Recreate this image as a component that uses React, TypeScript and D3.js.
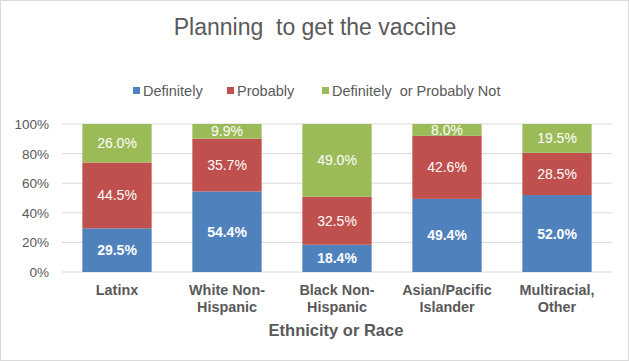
import { useEffect, useRef } from "react";
import * as d3 from "d3";

const categories = [
  ["Latinx"],
  ["White Non-", "Hispanic"],
  ["Black Non-", "Hispanic"],
  ["Asian/Pacific", "Islander"],
  ["Multiracial,", "Other"],
];
const seriesNames = ["Definitely", "Probably", "Definitely  or Probably Not"];
const definitely = [29.5, 54.4, 18.4, 49.4, 52.0];
const probably = [44.5, 35.7, 32.5, 42.6, 28.5];
const probablyNot = [26.0, 9.9, 49.0, 8.0, 19.5];
const yTicks = [0, 20, 40, 60, 80, 100];
const colors = ["#4f81bd", "#c0504d", "#9bbb59"];

const width = 629;
const height = 361;
const font = "'Liberation Sans', Arial, sans-serif";
const grey = "#595959";

export default function App() {
  const svgRef = useRef<SVGSVGElement>(null);

  useEffect(() => {
    if (!svgRef.current) return;
    const svg = d3.select(svgRef.current);
    svg.selectAll("*").remove();

    const margin = { top: 124, right: 17, bottom: 89, left: 62 };
    const innerWidth = width - margin.left - margin.right;
    const innerHeight = height - margin.top - margin.bottom;

    // border
    svg
      .append("rect")
      .attr("x", 0.5)
      .attr("y", 0.5)
      .attr("width", width - 1)
      .attr("height", height - 1)
      .attr("fill", "#fff")
      .attr("stroke", "#d9d9d9");

    // title
    svg
      .append("text")
      .attr("x", 315)
      .attr("y", 35)
      .attr("text-anchor", "middle")
      .style("font-family", font)
      .style("font-size", "23px")
      .style("fill", grey)
      .style("white-space", "pre")
      .text("Planning  to get the vaccine");

    // legend
    const legendX = [133, 227, 322];
    seriesNames.forEach((name, i) => {
      const lg = svg.append("g").attr("transform", `translate(${legendX[i]},91)`);
      lg.append("rect")
        .attr("x", 0)
        .attr("y", -4)
        .attr("width", 7)
        .attr("height", 7)
        .attr("fill", colors[i]);
      lg.append("text")
        .attr("x", 10)
        .attr("y", 5)
        .style("font-family", font)
        .style("font-size", "14.5px")
        .style("fill", grey)
        .style("white-space", "pre")
        .text(name);
    });

    const g = svg
      .append("g")
      .attr("transform", `translate(${margin.left},${margin.top})`);

    const x = d3
      .scaleBand()
      .domain(categories.map((c) => c.join(" ")))
      .range([0, innerWidth])
      .paddingInner(0.37)
      .paddingOuter(0.185);

    const y = d3.scaleLinear().domain([0, 100]).range([innerHeight, 0]);

    // gridlines
    g.append("g")
      .selectAll("line")
      .data(yTicks)
      .enter()
      .append("line")
      .attr("x1", 0)
      .attr("x2", innerWidth)
      .attr("y1", (d) => y(d))
      .attr("y2", (d) => y(d))
      .attr("stroke", "#d9d9d9")
      .attr("stroke-width", 1);

    // y labels
    g.append("g")
      .selectAll("text")
      .data(yTicks)
      .enter()
      .append("text")
      .attr("x", -13)
      .attr("y", (d) => y(d) + 5)
      .attr("text-anchor", "end")
      .style("font-family", font)
      .style("font-size", "13.5px")
      .style("fill", grey)
      .text((d) => `${d}%`);

    const rows = categories.map((c, i) => ({
      key: c.join(" "),
      lines: c,
      values: [definitely[i], probably[i], probablyNot[i]],
    }));

    rows.forEach((row) => {
      let acc = 0;
      row.values.forEach((v, si) => {
        const y0 = acc;
        const y1 = si === 2 ? 100 : acc + v;
        acc += v;
        g.append("rect")
          .attr("x", x(row.key) || 0)
          .attr("width", x.bandwidth())
          .attr("y", y(y1))
          .attr("height", y(y0) - y(y1))
          .attr("fill", colors[si]);
        g.append("text")
          .attr("x", (x(row.key) || 0) + x.bandwidth() / 2)
          .attr("y", (y(y0) + y(y1)) / 2 + 5)
          .attr("text-anchor", "middle")
          .style("font-family", font)
          .style("font-size", "14px")
          .style("font-weight", si === 0 ? "bold" : "normal")
          .style("fill", "#fff")
          .text(`${v.toFixed(1)}%`);
      });
    });

    // x category labels
    rows.forEach((row) => {
      const t = g
        .append("text")
        .attr("x", (x(row.key) || 0) + x.bandwidth() / 2)
        .attr("y", innerHeight + 23)
        .attr("text-anchor", "middle")
        .style("font-family", font)
        .style("font-size", "14.4px")
        .style("font-weight", "bold")
        .style("fill", grey);
      row.lines.forEach((line, li) => {
        t.append("tspan")
          .attr("x", (x(row.key) || 0) + x.bandwidth() / 2)
          .attr("dy", li === 0 ? 0 : 17)
          .text(line);
      });
    });

    // x axis title
    svg
      .append("text")
      .attr("x", 336)
      .attr("y", 336)
      .attr("text-anchor", "middle")
      .style("font-family", font)
      .style("font-size", "16.5px")
      .style("font-weight", "bold")
      .style("fill", grey)
      .text("Ethnicity or Race");
  }, []);

  return (
    <svg
      ref={svgRef}
      width={width}
      height={height}
      viewBox={`0 0 ${width} ${height}`}
      style={{ position: "absolute", left: 0, top: 0 }}
    />
  );
}
